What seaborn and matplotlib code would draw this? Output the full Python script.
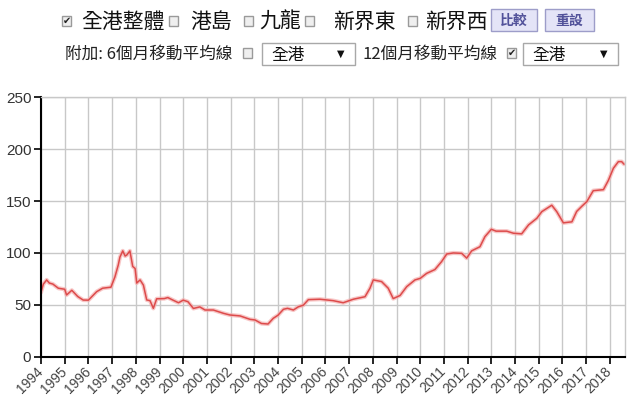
import matplotlib
matplotlib.use("Agg")
import matplotlib.pyplot as plt
import seaborn as sns
import pandas as pd
from matplotlib.patches import Rectangle

# ---------------- data ----------------
years = [1994.0, 1994.1, 1994.24, 1994.35, 1994.5, 1994.73, 1995.0, 1995.08, 1995.3,
         1995.55, 1995.78, 1996.0, 1996.35, 1996.6, 1996.95, 1997.12, 1997.26,
         1997.33, 1997.45, 1997.55, 1997.62, 1997.75, 1997.87, 1997.97, 1998.04,
         1998.18, 1998.32, 1998.46, 1998.6, 1998.74, 1998.88, 1999.2, 1999.35,
         1999.57, 1999.8, 2000.0, 2000.2, 2000.43, 2000.7, 2000.92, 2001.27,
         2001.7, 2001.97, 2002.4, 2002.82, 2003.03, 2003.3, 2003.58, 2003.8,
         2004.0, 2004.23, 2004.4, 2004.65, 2004.85, 2005.07, 2005.28, 2005.77,
         2006.33, 2006.75, 2007.18, 2007.67, 2007.88, 2008.02, 2008.37, 2008.65,
         2008.86, 2009.15, 2009.43, 2009.78, 2010.0, 2010.27, 2010.62, 2010.9,
         2011.12, 2011.4, 2011.75, 2011.96, 2012.17, 2012.52, 2012.73, 2013.0,
         2013.2, 2013.65, 2013.93, 2014.28, 2014.57, 2014.92, 2015.13, 2015.55,
         2015.76, 2016.04, 2016.4, 2016.6, 2016.82, 2017.03, 2017.3, 2017.73,
         2017.94, 2018.15, 2018.36, 2018.5, 2018.6]
index = [62, 70, 74, 71, 70, 66, 65, 59.5, 64,
         58, 54.6, 54.5, 62.7, 66, 67, 77, 88.4,
         96, 102, 97, 98, 102, 87, 85, 71,
         74, 69, 54.7, 54, 46.6, 55.8, 56, 57,
         54.5, 52, 54.5, 53, 46.5, 48, 45, 45,
         41.8, 40.2, 39.3, 36, 35.4, 32, 31.5, 37,
         40, 45.7, 46.6, 45, 48, 49.7, 55, 55.4,
         54, 52, 55.4, 57.8, 66, 74, 72.4, 66,
         56, 59, 67.5, 74, 75.5, 80.3, 84, 91.6,
         99, 100, 99.6, 95, 102, 106, 115.7, 122.8,
         121, 121, 119, 118.4, 127, 133.4, 139.8, 146,
         139.8, 129, 130, 140, 145, 149.5, 160, 161,
         170, 181.6, 188, 188, 185.5]
year_ticks = list(range(1994, 2019))
y_ticks = [0, 50, 100, 150, 200, 250]
row1_labels = ["全港整體", "港島", "九龍", "新界東", "新界西"]
row1_checked = [True, False, False, False, False]
buttons = ["比較", "重設"]
row2_labels = ["附加: 6個月移動平均線", "12個月移動平均線"]
row2_checked = [False, True]
dropdown_text = "全港"

df = pd.DataFrame({"year": years, "index": index})

# ---------------- figure ----------------
sns.set_style("white")
CJK = ["Noto Sans CJK TC", "DejaVu Sans"]
plt.rcParams["font.family"] = ["Liberation Sans", "DejaVu Sans"]

W, H = 640, 404
fig = plt.figure(figsize=(W / 100, H / 100), dpi=100)
fig.patch.set_facecolor("white")

ax_l, ax_r, ax_t, ax_b = 41, 625, 97.3, 356.7
ax = fig.add_axes([ax_l / W, 1 - ax_b / H, (ax_r - ax_l) / W, (ax_b - ax_t) / H])

sns.lineplot(data=df, x="year", y="index", ax=ax, color="#f5b0b0",
             linewidth=3.0, alpha=0.7, legend=False)
sns.lineplot(data=df, x="year", y="index", ax=ax, color="#dd4b4b",
             linewidth=1.1, legend=False)

ax.set_xlim(1994, 2018.64)
ax.set_ylim(0, 250)
ax.set_xticks(year_ticks)
ax.set_xticklabels([str(y) for y in year_ticks], rotation=45, ha="right",
                   va="center", rotation_mode="anchor", fontsize=10,
                   color="#444444")
ax.set_yticks(y_ticks)
ax.set_yticklabels([str(v) for v in y_ticks], fontsize=11, color="#333333")
ax.set_xlabel("")
ax.set_ylabel("")
ax.grid(True, color="#c8c8c8", linewidth=1.0)
ax.set_axisbelow(True)
ax.tick_params(axis="both", which="both", direction="out", length=5, width=1.2,
               color="black")
ax.tick_params(axis="x", bottom=True, pad=4)
ax.tick_params(axis="y", left=True, pad=2)
for s in ["left", "bottom"]:
    ax.spines[s].set_color("black")
    ax.spines[s].set_linewidth(1.5)
for s in ["top", "right"]:
    ax.spines[s].set_color("#c8c8c8")
    ax.spines[s].set_linewidth(1.0)


# ---------------- header (UI controls) ----------------
def fx(x):
    return x / W


def fy(y):
    return 1 - y / H


def box(x0, y0, w, h, fc, ec, lw=1.0):
    fig.add_artist(Rectangle((fx(x0), fy(y0 + h)), w / W, h / H,
                             transform=fig.transFigure, facecolor=fc,
                             edgecolor=ec, linewidth=lw))


def checkbox(x0, yc, checked, size=9):
    box(x0, yc - size / 2, size, size, "#efefef", "#9a9a9a")
    if checked:
        fig.text(fx(x0 + size / 2), fy(yc), "✔", fontsize=7, family=["DejaVu Sans"],
                 ha="center", va="center", color="#222222")


# row 1
r1y = 21
r1_cb_x = [62, 169, 244, 305, 408]
r1_tx_x = [81, 190, 259, 333, 425]
for cbx, tx, lab, chk in zip(r1_cb_x, r1_tx_x, row1_labels, row1_checked):
    checkbox(cbx, r1y, chk)
    fig.text(fx(tx), fy(r1y + 1), lab, fontsize=15, family=CJK, ha="left",
             va="center", color="#111111")
for bx, bw, lab in zip([491, 545], [46, 49], buttons):
    box(bx, 9, bw, 22, "#e4e4f7", "#9d9dc9")
    fig.text(fx(bx + bw / 2), fy(20.5), lab, fontsize=10, family=CJK,
             weight="bold", ha="center", va="center", color="#52529a")

# row 2
r2y = 54
fig.text(fx(65), fy(r2y), row2_labels[0], fontsize=12, family=CJK, ha="left",
         va="center", color="#222222")
fig.text(fx(362), fy(r2y), row2_labels[1], fontsize=12, family=CJK, ha="left",
         va="center", color="#222222")
checkbox(243, r2y - 1, row2_checked[0])
checkbox(507, r2y - 1, row2_checked[1])
for dx, dw in [(262, 93), (523, 95)]:
    box(dx, 43, dw, 22, "white", "#a8a8a8")
    fig.text(fx(dx + 9), fy(r2y + 1.5), dropdown_text, fontsize=12, family=CJK,
             ha="left", va="center", color="#111111")
    fig.text(fx(dx + dw - 14), fy(r2y), "▼", fontsize=7, family=["DejaVu Sans"],
             ha="center", va="center", color="#111111")

fig.savefig("out.png", dpi=100, facecolor="white")
